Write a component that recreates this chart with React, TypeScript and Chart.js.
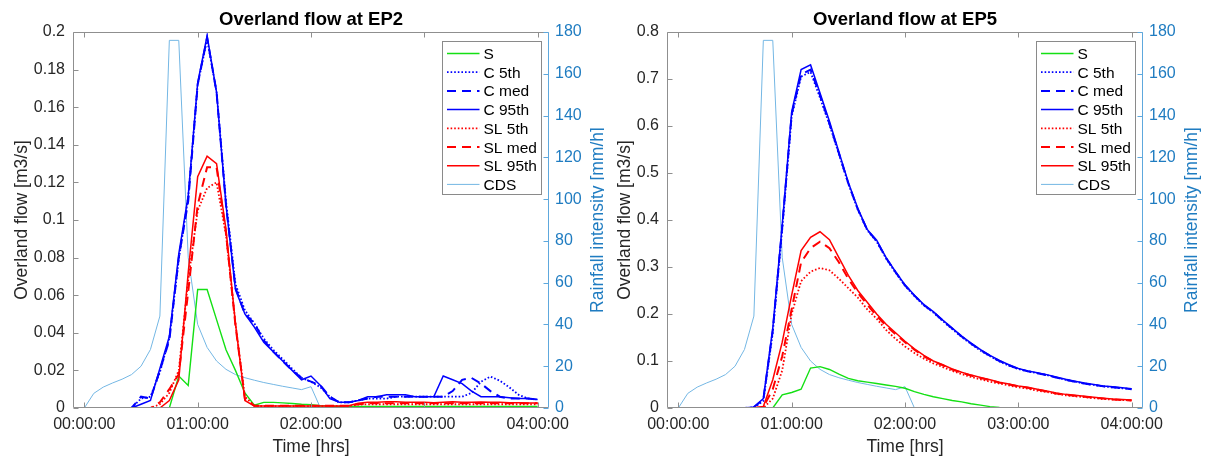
import React, { useEffect, useRef } from 'react';
import { Chart, registerables } from 'chart.js';

Chart.register(...registerables);

// ---------- data ----------
const timeMinutes = [0, 5, 10, 15, 20, 25, 30, 35, 40, 45, 50, 55, 60, 65, 70, 75, 80, 85, 90, 95, 100, 105, 110, 115, 120, 125, 130, 135, 140, 145, 150, 155, 160, 165, 170, 175, 180, 185, 190, 195, 200, 205, 210, 215, 220, 225, 230, 235, 240];
const xTickValues = [0, 60, 120, 180, 240];
const xTickLabels = ['00:00:00', '01:00:00', '02:00:00', '03:00:00', '04:00:00'];
const xRange = [-6, 246];
const rainTicks = [0, 20, 40, 60, 80, 100, 120, 140, 160, 180];
const ep2FlowTicks = [0, 0.02, 0.04, 0.06, 0.08, 0.1, 0.12, 0.14, 0.16, 0.18, 0.2];
const ep5FlowTicks = [0, 0.1, 0.2, 0.3, 0.4, 0.5, 0.6, 0.7, 0.8];
const seriesNames = ['S', 'C 5th', 'C med', 'C 95th', 'SL 5th', 'SL med', 'SL 95th', 'CDS'];

const cdsRain = [0, 7, 10, 12, 13.8, 16, 20, 28, 44, 176, 176, 72, 40, 29, 22.5, 18.5, 16, 14.5, 13.3, 12.2, 11.3, 10.4, 9.6, 8.8, 10.2, 0];

const ep2S = [0, 0, 0, 0, 0, 0, 0, 0, 0, 0,
  0.017, 0.012, 0.063, 0.063, 0.047, 0.031, 0.02, 0.008, 0.0015, 0.003,
  0.003, 0.0027, 0.0024, 0.002, 0.0018, 0.0012, 0.001, 0.0008, 0.0008, 0.0008,
  0.0008, 0.0008, 0.0008, 0.0008, 0.0008, 0.0008, 0.0008, 0.0008, 0.0008, 0.0008,
  0.0008, 0.0008, 0.0008, 0.0008, 0.0008, 0.0008, 0.0008, 0.0008, 0.0008];
const ep2C5 = [0, 0, 0, 0, 0, 0, 0.005, 0.006, 0.019, 0.037,
  0.079, 0.112, 0.172, 0.196, 0.168, 0.11, 0.066, 0.052, 0.045, 0.037,
  0.031, 0.026, 0.021, 0.016, 0.014, 0.011, 0.006, 0.003, 0.003, 0.004,
  0.005, 0.005, 0.005, 0.006, 0.006, 0.006, 0.006, 0.006, 0.006, 0.006,
  0.006, 0.008, 0.014, 0.0167, 0.0145, 0.011, 0.007, 0.005, 0.0045];
const ep2Cmed = [0, 0, 0, 0, 0, 0, 0.006, 0.005, 0.02, 0.036,
  0.08, 0.11, 0.172, 0.197, 0.168, 0.108, 0.064, 0.05, 0.045, 0.036,
  0.03, 0.025, 0.02, 0.016, 0.014, 0.012, 0.006, 0.003, 0.003, 0.004,
  0.005, 0.006, 0.006, 0.006, 0.006, 0.006, 0.006, 0.006, 0.006, 0.009,
  0.015, 0.016, 0.013, 0.009, 0.006, 0.005, 0.005, 0.005, 0.0045];
const ep2C95 = [0, 0, 0, 0, 0, 0, 0.002, 0.004, 0.021, 0.038,
  0.082, 0.113, 0.173, 0.198, 0.168, 0.108, 0.063, 0.05, 0.043, 0.035,
  0.03, 0.025, 0.02, 0.015, 0.017, 0.012, 0.005, 0.003, 0.003, 0.004,
  0.006, 0.006, 0.007, 0.007, 0.007, 0.006, 0.006, 0.006, 0.017, 0.015,
  0.013, 0.009, 0.006, 0.006, 0.006, 0.0055, 0.005, 0.005, 0.0045];
const ep2SL5 = [0, 0, 0, 0, 0, 0, 0, 0, 0.002, 0.008,
  0.02, 0.068, 0.105, 0.117, 0.12, 0.092, 0.045, 0.006, 0.0012, 0.001,
  0.001, 0.001, 0.001, 0.001, 0.001, 0.001, 0.001, 0.001, 0.001, 0.0018,
  0.002, 0.002, 0.002, 0.002, 0.002, 0.002, 0.002, 0.002, 0.002, 0.002,
  0.002, 0.002, 0.002, 0.002, 0.002, 0.002, 0.002, 0.002, 0.002];
const ep2SLmed = [0, 0, 0, 0, 0, 0, 0, 0, 0.003, 0.01,
  0.018, 0.062, 0.108, 0.128, 0.128, 0.093, 0.044, 0.005, 0.0012, 0.0012,
  0.0012, 0.0012, 0.0012, 0.0012, 0.0012, 0.0012, 0.0012, 0.0012, 0.0012, 0.002,
  0.0025, 0.0025, 0.0025, 0.0025, 0.0025, 0.0025, 0.0025, 0.0025, 0.0025, 0.0025,
  0.0025, 0.0025, 0.0025, 0.0025, 0.0025, 0.0025, 0.0025, 0.0025, 0.0025];
const ep2SL95 = [0, 0, 0, 0, 0, 0, 0, 0, 0, 0.004,
  0.015, 0.072, 0.123, 0.134, 0.13, 0.095, 0.045, 0.004, 0.001, 0.001,
  0.001, 0.001, 0.001, 0.001, 0.001, 0.001, 0.001, 0.001, 0.0012, 0.0025,
  0.003, 0.003, 0.0033, 0.0033, 0.003, 0.003, 0.003, 0.0028, 0.003, 0.0033,
  0.003, 0.003, 0.0032, 0.003, 0.003, 0.0028, 0.0028, 0.0027, 0.0027];

const ep5S = [0, 0, 0, 0, 0, 0, 0, 0, 0, 0,
  0, 0.028, 0.033, 0.04, 0.085, 0.088, 0.082, 0.072, 0.063, 0.058,
  0.055, 0.052, 0.049, 0.046, 0.042, 0.035, 0.029, 0.024, 0.02, 0.016,
  0.013, 0.009, 0.006, 0.003, 0.001, 0, 0, 0, 0, 0,
  0, 0, 0, 0, 0, 0, 0, 0, 0];
const ep5C5 = [0, 0, 0, 0, 0, 0, 0, 0, 0.001, 0.015,
  0.16, 0.38, 0.62, 0.705, 0.715, 0.66, 0.603, 0.54, 0.477, 0.422,
  0.378, 0.354, 0.318, 0.288, 0.26, 0.238, 0.218, 0.203, 0.185, 0.168,
  0.151, 0.136, 0.122, 0.11, 0.099, 0.09, 0.083, 0.078, 0.074, 0.07,
  0.065, 0.06, 0.056, 0.052, 0.049, 0.046, 0.044, 0.042, 0.04];
const ep5Cmed = [0, 0, 0, 0, 0, 0, 0, 0, 0.002, 0.018,
  0.165, 0.385, 0.625, 0.71, 0.72, 0.665, 0.605, 0.542, 0.478, 0.423,
  0.379, 0.355, 0.319, 0.289, 0.261, 0.239, 0.219, 0.204, 0.186, 0.169,
  0.152, 0.137, 0.123, 0.111, 0.1, 0.091, 0.083, 0.078, 0.074, 0.07,
  0.065, 0.06, 0.056, 0.052, 0.049, 0.046, 0.044, 0.042, 0.04];
const ep5C95 = [0, 0, 0, 0, 0, 0, 0, 0, 0.002, 0.02,
  0.17, 0.39, 0.63, 0.72, 0.73, 0.67, 0.61, 0.545, 0.48, 0.425,
  0.38, 0.357, 0.32, 0.29, 0.262, 0.24, 0.22, 0.205, 0.187, 0.17,
  0.153, 0.138, 0.124, 0.112, 0.101, 0.092, 0.084, 0.079, 0.075, 0.071,
  0.066, 0.061, 0.057, 0.053, 0.05, 0.047, 0.045, 0.043, 0.041];
const ep5SL5 = [0, 0, 0, 0, 0, 0, 0, 0, 0, 0,
  0.02, 0.08, 0.2, 0.27, 0.29, 0.298, 0.293, 0.275, 0.255, 0.235,
  0.21, 0.19, 0.166, 0.147, 0.131, 0.117, 0.105, 0.095, 0.087, 0.079,
  0.072, 0.066, 0.061, 0.056, 0.052, 0.048, 0.044, 0.041, 0.037, 0.034,
  0.03, 0.027, 0.025, 0.023, 0.021, 0.019, 0.018, 0.017, 0.016];
const ep5SLmed = [0, 0, 0, 0, 0, 0, 0, 0, 0, 0.002,
  0.04, 0.11, 0.21, 0.31, 0.34, 0.354, 0.34, 0.31, 0.275, 0.245,
  0.22, 0.196, 0.175, 0.157, 0.14, 0.124, 0.11, 0.099, 0.091, 0.082,
  0.075, 0.069, 0.064, 0.059, 0.054, 0.05, 0.046, 0.043, 0.039, 0.035,
  0.031, 0.028, 0.026, 0.024, 0.022, 0.02, 0.018, 0.017, 0.016];
const ep5SL95 = [0, 0, 0, 0, 0, 0, 0, 0, 0, 0.003,
  0.06, 0.14, 0.24, 0.335, 0.363, 0.375, 0.358, 0.32, 0.282, 0.25,
  0.225, 0.2, 0.178, 0.16, 0.142, 0.126, 0.112, 0.1, 0.092, 0.083,
  0.076, 0.07, 0.065, 0.06, 0.055, 0.051, 0.047, 0.044, 0.04, 0.036,
  0.032, 0.029, 0.027, 0.025, 0.023, 0.021, 0.019, 0.018, 0.017];

// ---------- styles ----------
const FONT = '"Liberation Sans", Arial, Helvetica, sans-serif';
const TEXT = '#262626';
const AXIS_GRAY = '#8f8f8f';
const RAIN_AXIS = '#5ea8dd';
const RAIN_TEXT = '#1f7cc1';
const GREEN = '#14e014';
const BLUE = '#0000ff';
const RED = '#ff0000';
const CDS_COLOR = '#74b7e4';
const DOT = [1.6, 2];
const DASH = [9, 6];

const seriesStyles = [
  { color: GREEN, width: 1.4, dash: [] as number[] },
  { color: BLUE, width: 1.8, dash: DOT },
  { color: BLUE, width: 2, dash: DASH },
  { color: BLUE, width: 1.5, dash: [] as number[] },
  { color: RED, width: 1.8, dash: DOT },
  { color: RED, width: 2, dash: DASH },
  { color: RED, width: 1.5, dash: [] as number[] },
  { color: CDS_COLOR, width: 1, dash: [] as number[] },
];

Chart.defaults.font.family = FONT;

const fmtNum = (v: number) => String(Number(v.toFixed(4)));

const framePlugin = {
  id: 'matlabFrame',
  afterDraw(chart: any, _args: any, opts: any) {
    const { ctx, chartArea: ca, scales } = chart;
    const xs = scales.x, ys = scales.y, yr = scales.y1;
    const L = Math.round(ca.left) + 0.5, R = Math.round(ca.right) - 0.5;
    const T = Math.round(ca.top) + 0.5, B = Math.round(ca.bottom) - 0.5;
    ctx.save();
    ctx.lineWidth = 1;
    ctx.setLineDash([]);
    // box
    ctx.strokeStyle = AXIS_GRAY;
    ctx.beginPath();
    ctx.moveTo(R, T); ctx.lineTo(L, T); ctx.lineTo(L, B); ctx.lineTo(R, B);
    ctx.stroke();
    // x ticks (bottom & top, inward)
    ctx.beginPath();
    xTickValues.forEach((v) => {
      const px = Math.round(xs.getPixelForValue(v)) + 0.5;
      ctx.moveTo(px, B); ctx.lineTo(px, B - 5);
      ctx.moveTo(px, T); ctx.lineTo(px, T + 5);
    });
    // left y ticks
    opts.flowTicks.forEach((v: number) => {
      const py = Math.round(ys.getPixelForValue(v)) + 0.5;
      ctx.moveTo(L, py); ctx.lineTo(L + 5, py);
    });
    ctx.stroke();
    // right axis
    ctx.strokeStyle = RAIN_AXIS;
    ctx.beginPath();
    ctx.moveTo(R, T); ctx.lineTo(R, B);
    rainTicks.forEach((v) => {
      const py = Math.round(yr.getPixelForValue(v)) + 0.5;
      ctx.moveTo(R, py); ctx.lineTo(R - 5, py);
    });
    ctx.stroke();

    const cx = (ca.left + ca.right) / 2;
    const cy = (ca.top + ca.bottom) / 2;
    // title
    ctx.fillStyle = '#000';
    ctx.font = `bold 18.5px ${FONT}`;
    ctx.textAlign = 'center';
    ctx.textBaseline = 'alphabetic';
    ctx.fillText(opts.title, cx, 25);
    // x title
    ctx.fillStyle = TEXT;
    ctx.font = `17.5px ${FONT}`;
    ctx.fillText('Time [hrs]', cx, 452);
    // left y title
    ctx.save();
    ctx.translate(opts.leftTitleX, cy);
    ctx.rotate(-Math.PI / 2);
    ctx.textBaseline = 'middle';
    ctx.fillText('Overland flow [m3/s]', 0, 0);
    ctx.restore();
    // right y title
    ctx.save();
    ctx.translate(ca.right + 49, cy);
    ctx.rotate(-Math.PI / 2);
    ctx.textBaseline = 'middle';
    ctx.fillStyle = RAIN_TEXT;
    ctx.fillText('Rainfall intensity [mm/h]', 0, 0);
    ctx.restore();

    // legend
    const bx = Math.round(ca.right - 107.5) + 0.5;
    const by = Math.round(ca.top + 8.5) + 0.5;
    const bw = 99, bh = 153;
    ctx.fillStyle = '#ffffff';
    ctx.fillRect(bx, by, bw, bh);
    ctx.strokeStyle = '#8a8a8a';
    ctx.lineWidth = 1;
    ctx.strokeRect(bx, by, bw, bh);
    ctx.font = `15.5px ${FONT}`;
    ctx.textAlign = 'left';
    ctx.textBaseline = 'alphabetic';
    seriesNames.forEach((name, i) => {
      const st = seriesStyles[i];
      const ry = by + 12 + 18.7 * i;
      ctx.beginPath();
      ctx.strokeStyle = st.color;
      ctx.lineWidth = st.width;
      ctx.setLineDash(st.dash);
      ctx.moveTo(bx + 4.5, ry);
      ctx.lineTo(bx + 37, ry);
      ctx.stroke();
      ctx.setLineDash([]);
      ctx.fillStyle = '#000';
      ctx.fillText(name, bx + 41, ry + 5.5);
    });
    ctx.restore();
  },
};

type PanelProps = {
  title: string;
  flows: number[][];
  flowTicks: number[];
  left: number;
  leftW: number;
  rightW: number;
  leftTitleX: number;
};

function Panel({ title, flows, flowTicks, left, leftW, rightW, leftTitleX }: PanelProps) {
  const ref = useRef<HTMLCanvasElement>(null);
  useEffect(() => {
    const canvas = ref.current;
    if (!canvas) return;
    const toPoints = (vals: number[]) => vals.map((v, i) => ({ x: timeMinutes[i], y: v }));
    const allSeries = [...flows, cdsRain];
    const datasets = allSeries.map((vals, i) => {
      const st = seriesStyles[i];
      return {
        label: seriesNames[i],
        data: toPoints(vals),
        yAxisID: i === 7 ? 'y1' : 'y',
        borderColor: st.color,
        backgroundColor: st.color,
        borderWidth: st.width,
        borderDash: st.dash,
        pointRadius: 0,
        fill: false,
        tension: 0,
        order: i === 7 ? 20 : 10 - i,
      };
    });
    const chart = new Chart(canvas, {
      type: 'line',
      data: { datasets } as any,
      options: {
        animation: false,
        responsive: false,
        events: [],
        layout: { padding: { top: 32, left: 0, right: 0, bottom: 0 } },
        plugins: {
          legend: { display: false },
          tooltip: { enabled: false },
          title: { display: false },
          matlabFrame: { title, flowTicks, leftTitleX },
        } as any,
        scales: {
          x: {
            type: 'linear',
            position: 'bottom',
            min: xRange[0],
            max: xRange[1],
            grid: { display: false, drawTicks: false },
            border: { display: false },
            afterBuildTicks: (s: any) => { s.ticks = xTickValues.map((v) => ({ value: v })); },
            afterFit: (s: any) => { s.height = 50; },
            ticks: {
              autoSkip: false,
              maxRotation: 0,
              padding: 7,
              color: TEXT,
              font: { size: 16, family: FONT },
              callback: (v: any) => xTickLabels[xTickValues.indexOf(Number(v))] ?? '',
            },
          },
          y: {
            type: 'linear',
            position: 'left',
            min: flowTicks[0],
            max: flowTicks[flowTicks.length - 1],
            grid: { display: false, drawTicks: false },
            border: { display: false },
            afterBuildTicks: (s: any) => { s.ticks = flowTicks.map((v) => ({ value: v })); },
            afterFit: (s: any) => { s.width = leftW; },
            ticks: {
              autoSkip: false,
              padding: 8,
              color: TEXT,
              font: { size: 16, family: FONT },
              callback: (v: any) => fmtNum(Number(v)),
            },
          },
          y1: {
            type: 'linear',
            position: 'right',
            min: rainTicks[0],
            max: rainTicks[rainTicks.length - 1],
            grid: { display: false, drawTicks: false },
            border: { display: false },
            afterBuildTicks: (s: any) => { s.ticks = rainTicks.map((v) => ({ value: v })); },
            afterFit: (s: any) => { s.width = rightW; },
            ticks: {
              autoSkip: false,
              padding: 6,
              color: RAIN_TEXT,
              font: { size: 16, family: FONT },
              callback: (v: any) => fmtNum(Number(v)),
            },
          },
        },
      } as any,
      plugins: [framePlugin],
    });
    return () => chart.destroy();
  }, []);
  return (
    <canvas
      ref={ref}
      width={604}
      height={458}
      style={{ position: 'absolute', left, top: 0, width: 604, height: 458 }}
    />
  );
}

export default function App() {
  return (
    <div style={{ position: 'fixed', left: 0, top: 0, width: 1208, height: 458, background: '#ffffff', overflow: 'hidden' }}>
      <Panel
        title="Overland flow at EP2"
        flows={[ep2S, ep2C5, ep2Cmed, ep2C95, ep2SL5, ep2SLmed, ep2SL95]}
        flowTicks={ep2FlowTicks}
        left={0}
        leftW={73}
        rightW={55}
        leftTitleX={22}
      />
      <Panel
        title="Overland flow at EP5"
        flows={[ep5S, ep5C5, ep5Cmed, ep5C95, ep5SL5, ep5SLmed, ep5SL95]}
        flowTicks={ep5FlowTicks}
        left={604}
        leftW={63}
        rightW={65}
        leftTitleX={21}
      />
    </div>
  );
}
